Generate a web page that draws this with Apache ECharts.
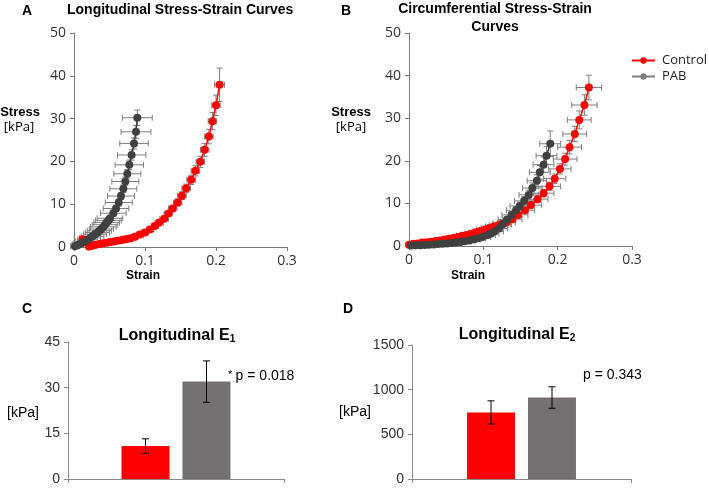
<!DOCTYPE html>
<html><head><meta charset="utf-8">
<script src="https://cdn.jsdelivr.net/npm/echarts@6/dist/echarts.min.js"></script>
<style>html,body{margin:0;padding:0;background:#fff}#c{width:709px;height:488px}</style>
</head><body><div id="c"></div>
<script>
// ---------- Data ----------
const strainTicks = [0, 0.1, 0.2, 0.3];
const stressTicks = [0, 10, 20, 30, 40, 50];
const seriesNames = ['Control', 'PAB'];

// Panel A: Longitudinal
const aCtrlStrain = [0.012,0.021,0.026,0.031,0.036,0.041,0.046,0.051,0.056,0.061,0.066,0.071,0.076,0.080,0.086,0.093,0.100,0.107,0.114,0.120,0.127,0.133,0.139,0.146,0.152,0.158,0.165,0.171,0.178,0.184,0.190,0.195,0.200,0.205];
const aCtrlStress = [1.8,0.1,0.3,0.5,0.7,0.85,1.0,1.15,1.3,1.45,1.6,1.75,1.9,2.05,2.4,2.9,3.4,4.1,4.9,5.7,6.6,7.8,9.0,10.4,12.0,13.7,15.7,17.8,19.9,22.7,25.8,29.4,33.1,37.9];
const aCtrlXErr = [0.003,0.002,0.002,0.002,0.002,0.003,0.003,0.003,0.003,0.003,0.004,0.004,0.004,0.004,0.004,0.005,0.005,0.005,0.005,0.006,0.006,0.006,0.006,0.006,0.006,0.006,0.006,0.006,0.006,0.006,0.006,0.006,0.006,0.007];
const aCtrlYErr = [0.3,0.1,0.1,0.1,0.1,0.1,0.1,0.1,0.2,0.2,0.2,0.2,0.2,0.2,0.3,0.3,0.3,0.4,0.4,0.5,0.5,0.6,0.7,0.8,0.9,1.0,1.1,1.2,1.3,1.5,1.7,2.0,2.4,3.9];

const aPabStrain = [0.0014,0.005,0.0085,0.012,0.0155,0.019,0.0225,0.026,0.0296,0.033,0.0357,0.0385,0.0413,0.0437,0.046,0.0485,0.0507,0.0554,0.0592,0.063,0.0662,0.0695,0.0723,0.0751,0.0779,0.0812,0.0845,0.0873,0.0892];
const aPabStress = [0.2,0.4,0.7,1.0,1.3,1.7,2.1,2.5,3.0,3.4,3.8,4.2,4.7,5.2,5.7,6.2,6.7,7.9,9.0,10.4,11.9,13.6,15.3,17.1,19.2,21.5,24.2,26.9,30.2];
const aPabXErr = [0.006,0.008,0.01,0.012,0.013,0.014,0.015,0.016,0.016,0.017,0.017,0.017,0.018,0.018,0.018,0.018,0.018,0.018,0.018,0.019,0.019,0.019,0.019,0.019,0.02,0.02,0.02,0.021,0.021];
const aPabYErr = [0.1,0.1,0.2,0.2,0.2,0.3,0.3,0.3,0.4,0.4,0.4,0.5,0.5,0.5,0.6,0.6,0.6,0.7,0.7,0.8,0.8,0.9,1.0,1.0,1.1,1.2,1.3,1.5,1.8];

// Panel B: Circumferential
const bCtrlStrain = [0.000,0.006,0.012,0.018,0.024,0.030,0.036,0.042,0.048,0.054,0.060,0.066,0.072,0.078,0.084,0.090,0.096,0.102,0.108,0.114,0.120,0.125,0.131,0.139,0.147,0.156,0.164,0.173,0.181,0.189,0.196,0.203,0.210,0.216,0.223,0.229,0.236,0.242];
const bCtrlStress = [0.3,0.5,0.6,0.8,0.9,1.0,1.2,1.3,1.5,1.7,1.9,2.1,2.4,2.6,2.9,3.2,3.5,3.9,4.2,4.6,4.9,5.2,5.5,6.3,7.3,8.4,9.6,11.0,12.4,14.0,15.8,18.1,20.4,23.2,26.3,29.6,33.1,37.2];
const bCtrlXErr = [0.002,0.003,0.003,0.004,0.004,0.005,0.005,0.006,0.006,0.007,0.007,0.008,0.008,0.009,0.009,0.01,0.01,0.011,0.011,0.011,0.012,0.012,0.012,0.013,0.013,0.013,0.014,0.014,0.014,0.015,0.015,0.015,0.016,0.016,0.016,0.016,0.017,0.017];
const bCtrlYErr = [0.1,0.1,0.1,0.1,0.1,0.1,0.1,0.1,0.2,0.2,0.2,0.2,0.2,0.3,0.3,0.3,0.3,0.3,0.4,0.4,0.4,0.4,0.5,0.5,0.6,0.6,0.7,0.8,0.9,1.0,1.1,1.2,1.4,1.6,1.8,2.1,2.4,2.9];

const bPabStrain = [0.003,0.009,0.015,0.021,0.027,0.033,0.039,0.045,0.051,0.057,0.063,0.069,0.075,0.081,0.087,0.093,0.099,0.105,0.110,0.115,0.121,0.126,0.132,0.138,0.144,0.149,0.155,0.161,0.166,0.172,0.176,0.181,0.185,0.190];
const bPabStress = [0.1,0.15,0.2,0.25,0.3,0.35,0.45,0.5,0.6,0.7,0.8,0.95,1.1,1.3,1.5,1.8,2.1,2.5,2.9,3.4,4.1,5.1,6.2,7.3,8.4,9.4,10.6,12.0,13.6,15.3,17.3,19.1,21.2,24.0];
const bPabXErr = [0.002,0.003,0.004,0.004,0.005,0.005,0.006,0.006,0.007,0.007,0.008,0.008,0.009,0.009,0.01,0.01,0.011,0.011,0.011,0.012,0.012,0.012,0.012,0.013,0.013,0.013,0.013,0.013,0.013,0.013,0.014,0.014,0.014,0.014];
const bPabYErr = [0.05,0.05,0.05,0.05,0.05,0.1,0.1,0.1,0.1,0.1,0.1,0.2,0.2,0.2,0.2,0.3,0.3,0.3,0.4,0.4,0.5,0.5,0.6,0.7,0.8,0.9,1.0,1.1,1.2,1.4,1.6,1.8,2.1,3.0];

// Panel C: Longitudinal E1 [kPa]
const e1Ticks = [0, 15, 30, 45];
const e1Values = [10.8, 32.0];
const e1Errors = [2.4, 6.8];
// Panel D: Longitudinal E2 [kPa]
const e2Ticks = [0, 500, 1000, 1500];
const e2Values = [745, 912];
const e2Errors = [130, 120];

// ---------- Styles ----------
const RED = '#ff0000', DARK = '#404040', ERR = '#7f7f7f', BARGRAY = '#767171';
const AX = '#7a7a7a', TXT = '#333333';
const FONT = '"Open Sans", sans-serif';
const ARIAL = '"Liberation Sans", Arial, sans-serif';

function pairs(xs, ys) { return xs.map((x, i) => [x, ys[i]]); }

function lineSeries(name, xi, xs, ys, color) {
  return {
    type: 'line', name, xAxisIndex: xi, yAxisIndex: xi,
    data: pairs(xs, ys), symbol: 'circle', symbolSize: 8, showSymbol: true,
    itemStyle: { color, borderWidth: 0 }, lineStyle: { color, width: 1.5 }, z: 4, animation: false
  };
}

function xyErrSeries(xi, xs, ys, xe, ye) {
  return {
    type: 'custom', xAxisIndex: xi, yAxisIndex: xi, silent: true, z: 2, animation: false,
    data: xs.map((x, i) => [x, ys[i], xe[i], ye[i]]),
    encode: { x: 0, y: 1 },
    renderItem: (params, api) => {
      const x = api.value(0), y = api.value(1), ex = api.value(2), ey = api.value(3);
      const c = api.coord([x, y]);
      const l = api.coord([x - ex, y])[0], r = api.coord([x + ex, y])[0];
      const t = api.coord([x, y + ey])[1], b = api.coord([x, Math.max(0, y - ey)])[1];
      const cap = 3;
      const style = { stroke: ERR, lineWidth: 1, fill: null };
      return { type: 'group', children: [
        { type: 'line', shape: { x1: l, y1: c[1], x2: r, y2: c[1] }, style },
        { type: 'line', shape: { x1: l, y1: c[1] - cap, x2: l, y2: c[1] + cap }, style },
        { type: 'line', shape: { x1: r, y1: c[1] - cap, x2: r, y2: c[1] + cap }, style },
        { type: 'line', shape: { x1: c[0], y1: t, x2: c[0], y2: b }, style },
        { type: 'line', shape: { x1: c[0] - cap, y1: t, x2: c[0] + cap, y2: t }, style },
        { type: 'line', shape: { x1: c[0] - cap, y1: b, x2: c[0] + cap, y2: b }, style }
      ]};
    }
  };
}

const BAR_OFFSETS = [-30.5, 30.5];
function barErrSeries(ai, vals, errs) {
  return {
    type: 'custom', xAxisIndex: ai, yAxisIndex: ai, silent: true, z: 5, animation: false,
    data: vals.map((v, i) => [0, v, errs[i], i]),
    encode: { x: 0, y: 1 },
    renderItem: (params, api) => {
      const v = api.value(1), e = api.value(2), k = api.value(3);
      const cx = api.coord([0, v])[0] + BAR_OFFSETS[k];
      const t = api.coord([0, v + e])[1], b = api.coord([0, v - e])[1];
      const cap = 3.5;
      const style = { stroke: '#000', lineWidth: 1, fill: null };
      return { type: 'group', children: [
        { type: 'line', shape: { x1: cx, y1: t, x2: cx, y2: b }, style },
        { type: 'line', shape: { x1: cx - cap, y1: t, x2: cx + cap, y2: t }, style },
        { type: 'line', shape: { x1: cx - cap, y1: b, x2: cx + cap, y2: b }, style }
      ]};
    }
  };
}

function valueXAxis(gi) {
  return {
    type: 'value', gridIndex: gi, min: strainTicks[0], max: strainTicks[strainTicks.length - 1], interval: 0.1,
    axisLine: { show: true, lineStyle: { color: AX, width: 1 } },
    axisTick: { show: true, length: 4, lineStyle: { color: AX } },
    axisLabel: { color: TXT, fontSize: 14, fontFamily: FONT, margin: 7, showMinLabel: true, showMaxLabel: true },
    splitLine: { show: false }
  };
}
function stressYAxis(gi) {
  return {
    type: 'value', gridIndex: gi, min: stressTicks[0], max: stressTicks[stressTicks.length - 1], interval: 10,
    axisLine: { show: true, lineStyle: { color: AX, width: 1 } },
    axisTick: { show: true, length: 4, lineStyle: { color: AX } },
    axisLabel: { color: TXT, fontSize: 14, fontFamily: FONT, margin: 8 },
    splitLine: { show: false }
  };
}
function catXAxis(gi) {
  return {
    type: 'category', gridIndex: gi, data: [''], boundaryGap: true,
    axisLine: { show: true, lineStyle: { color: '#8a8a8a', width: 1 } },
    axisTick: { show: true, length: 4, inside: false, lineStyle: { color: '#8a8a8a' } },
    axisLabel: { show: false }, splitLine: { show: false }
  };
}
function barYAxis(gi, ticks) {
  return {
    type: 'value', gridIndex: gi, min: ticks[0], max: ticks[ticks.length - 1], interval: ticks[1] - ticks[0],
    axisLine: { show: true, lineStyle: { color: '#8a8a8a', width: 1 } },
    axisTick: { show: true, length: 4, lineStyle: { color: '#8a8a8a' } },
    axisLabel: { color: TXT, fontSize: 14, fontFamily: ARIAL, margin: 8, formatter: v => String(v) },
    splitLine: { show: false }
  };
}
function barSeries(ai, name, val, color) {
  return { type: 'bar', name, xAxisIndex: ai, yAxisIndex: ai, data: [val], barWidth: 48, barGap: '27%',
    itemStyle: { color }, z: 2, animation: false };
}

function txt(x, y, text, size, weight, align, family) {
  return { type: 'text', x, y, style: { text, fontSize: size, fontWeight: weight || 'normal',
    fontFamily: family || ARIAL, fill: '#000', align: align || 'center', verticalAlign: 'middle' } };
}

const chart = echarts.init(document.getElementById('c'), null, { renderer: 'canvas' });
chart.setOption({
  backgroundColor: '#fff',
  animation: false,
  grid: [
    { left: 74, top: 33, width: 213, height: 214, outerBoundsMode: 'none' },
    { left: 409, top: 33, width: 223, height: 213, outerBoundsMode: 'none' },
    { left: 68, top: 342, width: 216, height: 137, outerBoundsMode: 'none' },
    { left: 412, top: 345, width: 219, height: 134, outerBoundsMode: 'none' }
  ],
  xAxis: [valueXAxis(0), valueXAxis(1), catXAxis(2), catXAxis(3)],
  yAxis: [stressYAxis(0), stressYAxis(1), barYAxis(2, e1Ticks), barYAxis(3, e2Ticks)],
  legend: {
    left: 631, top: 54, orient: 'vertical', itemGap: 3, itemWidth: 23, itemHeight: 8, padding: 0,
    textStyle: { fontSize: 13, fontFamily: FONT, color: '#222', padding: [0, 0, 0, 2] },
    data: [
      { name: seriesNames[0] },
      { name: seriesNames[1], itemStyle: { color: ERR }, lineStyle: { color: ERR } }
    ]
  },
  series: [
    xyErrSeries(0, aCtrlStrain, aCtrlStress, aCtrlXErr, aCtrlYErr),
    lineSeries(seriesNames[0], 0, aCtrlStrain, aCtrlStress, RED),
    xyErrSeries(0, aPabStrain, aPabStress, aPabXErr, aPabYErr),
    lineSeries(seriesNames[1], 0, aPabStrain, aPabStress, DARK),
    xyErrSeries(1, bCtrlStrain, bCtrlStress, bCtrlXErr, bCtrlYErr),
    lineSeries(seriesNames[0], 1, bCtrlStrain, bCtrlStress, RED),
    xyErrSeries(1, bPabStrain, bPabStress, bPabXErr, bPabYErr),
    lineSeries(seriesNames[1], 1, bPabStrain, bPabStress, DARK),
    barSeries(2, 'Control E1', e1Values[0], RED),
    barSeries(2, 'PAB E1', e1Values[1], BARGRAY),
    barErrSeries(2, e1Values, e1Errors),
    barSeries(3, 'Control E2', e2Values[0], RED),
    barSeries(3, 'PAB E2', e2Values[1], BARGRAY),
    barErrSeries(3, e2Values, e2Errors)
  ],
  graphic: [
    txt(27, 11, 'A', 14, 'bold'),
    txt(67, 10, 'Longitudinal Stress-Strain Curves', 14, 'bold', 'left'),
    txt(346, 11, 'B', 14, 'bold'),
    txt(495, 9, 'Circumferential Stress-Strain', 14, 'bold'),
    txt(495, 27, 'Curves', 14, 'bold'),
    txt(20, 112, 'Stress', 13, 'bold'),
    txt(19, 127, '[kPa]', 13, 'normal', 'center', FONT),
    txt(351, 112, 'Stress', 13, 'bold'),
    txt(351, 127, '[kPa]', 13, 'normal', 'center', FONT),
    txt(143, 276, 'Strain', 12, 'bold'),
    txt(468, 276, 'Strain', 12, 'bold'),
    txt(27, 309, 'C', 14, 'bold'),
    txt(348, 309, 'D', 14, 'bold'),
    { type: 'text', x: 177, y: 336, style: { text: '{a|Longitudinal E}{b|1}', fill: '#000', align: 'center', verticalAlign: 'middle',
      rich: { a: { fontSize: 16, fontWeight: 'bold', fontFamily: ARIAL, verticalAlign: 'bottom' }, b: { fontSize: 10, fontWeight: 'bold', fontFamily: ARIAL, verticalAlign: 'bottom' } } } },
    { type: 'text', x: 517, y: 335, style: { text: '{a|Longitudinal E}{b|2}', fill: '#000', align: 'center', verticalAlign: 'middle',
      rich: { a: { fontSize: 16, fontWeight: 'bold', fontFamily: ARIAL, verticalAlign: 'bottom' }, b: { fontSize: 10, fontWeight: 'bold', fontFamily: ARIAL, verticalAlign: 'bottom' } } } },
    txt(23, 413, '[kPa]', 14),
    txt(355, 412, '[kPa]', 14),
    { type: 'text', x: 228, y: 376, style: { text: '{s|*} {p|p = 0.018}', fill: '#000', align: 'left', verticalAlign: 'middle',
      rich: { s: { fontSize: 11, fontFamily: ARIAL, verticalAlign: 'top' }, p: { fontSize: 14, fontFamily: ARIAL } } } },
    txt(583, 375, 'p = 0.343', 14, 'normal', 'left')
  ]
});
</script></body></html>
